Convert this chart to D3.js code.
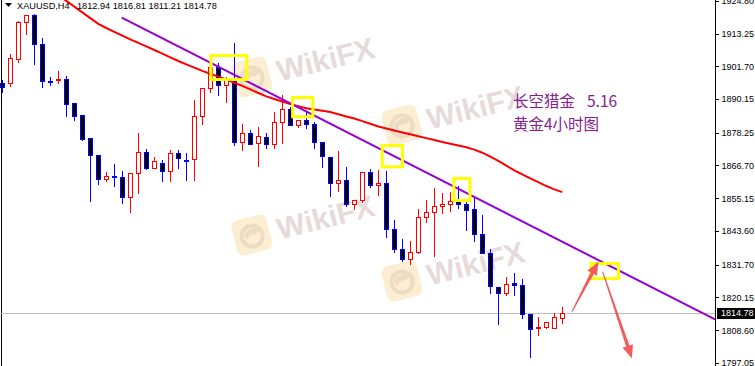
<!DOCTYPE html>
<html>
<head>
<meta charset="utf-8">
<script src="https://cdn.jsdelivr.net/npm/d3@7"></script>
<style>
  html, body { margin: 0; padding: 0; background: #ffffff; overflow: hidden; }
  svg { display: block; }
</style>
</head>
<body>
<svg id="chart" width="755" height="366"></svg>
<script>
// XAUUSD H4 candles, oldest to newest
const opens = [1895.79,1895.79,1904.25,1917.30,1919.77,1909.54,1896.67,1897.02,1897.20,1888.74,
  1884.50,1876.39,1870.40,1861.83,1863.10,1862.64,1855.69,1863.94,1871.56,1865.92,
  1867.68,1864.76,1871.00,1868.81,1868.88,1884.15,1893.92,1901.54,1895.08,1897.45,
  1874.88,1878.05,1874.52,1876.85,1874.17,1881.93,1886.62,1880.98,1882.74,1881.22,
  1874.88,1869.59,1860.42,1861.58,1853.01,1854.53,1864.30,1859.82,1860.42,1844.20,
  1837.14,1833.61,1836.08,1848.64,1850.19,1852.41,1853.12,1854.18,1853.12,1851.25,
  1842.43,1835.73,1823.74,1821.62,1825.15,1824.55,1814.22,1809.39,1809.64,1809.50,
  1812.94];
const highs = [1896.85,1906.02,1917.65,1919.77,1920.30,1911.66,1897.91,1900.02,1898.26,1888.74,
  1884.50,1876.39,1870.40,1864.40,1867.22,1864.76,1864.05,1878.16,1872.51,1869.69,
  1868.63,1872.16,1872.16,1871.00,1889.79,1894.13,1902.74,1902.74,1898.01,1909.79,
  1881.22,1879.21,1880.17,1878.16,1885.46,1891.56,1887.43,1882.74,1885.67,1882.14,
  1874.88,1869.59,1871.91,1866.06,1854.53,1864.30,1865.36,1865.11,1864.76,1847.47,
  1840.77,1840.07,1851.25,1854.53,1858.65,1856.89,1857.46,1859.47,1854.28,1855.48,
  1849.24,1837.14,1823.74,1827.27,1828.68,1826.56,1814.22,1813.16,1811.61,1814.78,
  1816.81];
const lows = [1892.62,1894.73,1903.20,1913.07,1902.49,1894.38,1895.08,1895.79,1884.15,1882.74,
  1875.69,1854.28,1860.17,1861.34,1859.57,1853.47,1850.40,1857.00,1865.46,1865.81,
  1861.23,1861.23,1865.92,1861.58,1861.58,1881.22,1892.72,1891.56,1889.20,1873.92,
  1872.16,1874.17,1866.52,1872.87,1872.87,1874.52,1880.98,1880.27,1879.81,1872.97,
  1866.27,1856.05,1857.81,1852.52,1851.35,1853.93,1859.22,1856.29,1841.37,1836.30,
  1833.12,1831.96,1835.73,1846.66,1834.88,1849.84,1850.65,1851.81,1843.95,1840.07,
  1835.73,1821.62,1810.69,1821.03,1821.03,1812.81,1799.05,1806.92,1809.28,1809.28,
  1811.21];
const closes = [1894.38,1904.61,1917.30,1919.77,1909.54,1896.49,1896.32,1897.38,1888.38,1884.15,
  1876.04,1870.40,1861.93,1863.10,1862.53,1855.69,1864.05,1871.56,1865.92,1868.28,
  1864.76,1871.00,1869.23,1868.46,1884.15,1894.13,1901.54,1895.08,1897.45,1874.88,
  1878.05,1874.17,1876.99,1874.17,1881.93,1886.62,1880.98,1882.74,1881.22,1874.88,
  1870.05,1860.42,1861.58,1853.01,1854.53,1864.30,1859.82,1860.63,1844.20,1837.14,
  1833.61,1836.08,1848.64,1850.19,1852.41,1853.12,1854.18,1853.12,1851.00,1842.54,
  1835.73,1824.31,1821.62,1824.80,1824.55,1814.33,1808.93,1809.74,1811.61,1813.16,
  1814.78];

// moving average (red), per candle; earlier values sit above the visible range
const maValues = [null,null,null,null,null,null,null,1926.75,1924.74,1922.73,
  1920.69,1918.68,1916.67,1915.19,1913.81,1912.47,1911.20,1909.93,1908.70,1907.43,
  1906.12,1904.82,1903.55,1902.38,1901.22,1900.09,1899.07,1898.05,1897.02,1895.89,
  1894.77,1893.53,1892.26,1891.06,1890.15,1889.27,1888.35,1887.61,1886.90,1886.44,
  1885.99,1885.53,1884.79,1884.01,1883.27,1882.35,1881.40,1880.48,1879.74,1879.04,
  1878.37,1877.70,1876.99,1876.36,1875.69,1875.02,1874.38,1873.75,1873.15,1872.30,
  1871.21,1869.80,1868.32,1866.66,1865.00,1863.56,1862.15,1860.81,1859.46,1858.27,
  1857.31];

// price scale labels
const priceTicks = [1924.80,1913.25,1901.70,1890.15,1878.25,1866.70,1855.15,1843.60,1831.70,1820.15,1808.60,1797.05];

const symbolName = "XAUUSD,H4";
const lastQuote = [1812.94, 1816.81, 1811.21, 1814.78];   // O H L C of the live bar
const bidPrice = 1814.78;

// descending trendline: two anchors (bar index, price), extended as a ray
const trendAnchors = [[14.93, 1918.82], [87.2, 1815.13]];

// highlighted zones: bar index range and price range
const zoneI0 = [25.9, 36.1, 47.3, 56.25, 73.4];
const zoneI1 = [30.75, 39.0, 50.2, 58.65, 77.2];
const zoneP0 = [1906.02, 1891.20, 1874.28, 1862.64, 1832.66];
const zoneP1 = [1896.49, 1883.34, 1865.71, 1853.82, 1826.31];

// forecast arrows: tail and tip as (bar index, price)
const arrowFrom = [[71.2, 1815.13], [75.05, 1829.24]];
const arrowTo   = [[74.5, 1832.77], [78.7, 1798.70]];

const noteTitle = "长空猎金";
const noteDate = "5.16";
const noteSub = "黄金4小时图";
const watermarkText = "WikiFX";

// ---------------------------------------------------------------
const W = 755, H = 366, plotRight = 715;
const svg = d3.select("#chart");

const x = d3.scaleLinear().domain([0, 70]).range([2.3, 562.3]);
const y = d3.scaleLinear().domain([1797.05, 1913.25]).range([363, 33.5]);

svg.append("defs").append("clipPath").attr("id", "plotClip")
  .append("rect").attr("x", 0).attr("y", 0).attr("width", plotRight).attr("height", H);

// faint brand stamps behind the chart
const wmPos = [[230, 64], [230, 222], [380, 112], [380, 268]];
const wm = svg.append("g").attr("clip-path", "url(#plotClip)");
wmPos.forEach(p => {
  const g = wm.append("g").attr("transform", `translate(${p[0]},${p[1]}) rotate(-14)`);
  g.append("rect").attr("x", 0).attr("y", 0).attr("width", 36).attr("height", 36).attr("rx", 7)
    .attr("fill", "#fbeed2");
  g.append("circle").attr("cx", 18).attr("cy", 19).attr("r", 10.5)
    .attr("fill", "none").attr("stroke", "#ecdcc4").attr("stroke-width", 4);
  g.append("path").attr("d", "M10,16 Q18,8 28,14 L22,18 Q16,16 12,22 Z").attr("fill", "#ecdcc4");
  g.append("text").attr("x", 44).attr("y", 29)
    .attr("font-family", "'Liberation Sans', Arial, sans-serif")
    .attr("font-weight", "bold").attr("font-size", 30)
    .attr("fill", "#e7dada").text(watermarkText);
});

// left frame edge
svg.append("line").attr("x1", 1.5).attr("x2", 1.5).attr("y1", 0).attr("y2", H)
  .attr("stroke", "#000").attr("stroke-width", 1).attr("shape-rendering", "crispEdges");

const plot = svg.append("g").attr("clip-path", "url(#plotClip)");

// bid line
const bidY = Math.round(y(bidPrice)) + 0.5;
plot.append("line").attr("x1", 0).attr("x2", plotRight).attr("y1", bidY).attr("y2", bidY)
  .attr("stroke", "#c0c0c0").attr("stroke-width", 1).attr("shape-rendering", "crispEdges");

// candles
const cg = plot.append("g").attr("shape-rendering", "crispEdges");
opens.forEach((o, i) => {
  const h = highs[i], l = lows[i], c = closes[i];
  const bull = c > o;
  const col = bull ? "#ff0000" : "#0000ff";
  const px = Math.round(x(i));
  cg.append("line")
    .attr("x1", px + 0.5).attr("x2", px + 0.5)
    .attr("y1", Math.round(y(h))).attr("y2", Math.round(y(l)) + 1)
    .attr("stroke", col).attr("stroke-width", 1);
  const yt = Math.round(y(Math.max(o, c)));
  const yb = Math.round(y(Math.min(o, c)));
  if (yb - yt < 2) {
    cg.append("rect").attr("x", px - 2).attr("y", yt).attr("width", 5)
      .attr("height", Math.max(1, yb - yt + 1)).attr("fill", col);
  } else {
    cg.append("rect").attr("x", px - 1.5).attr("y", yt + 0.5).attr("width", 4)
      .attr("height", yb - yt)
      .attr("fill", bull ? "#ffffff" : "#000000")
      .attr("stroke", col).attr("stroke-width", 1);
  }
});

// moving average
const maLine = d3.line().defined(d => d != null).x((d, i) => x(i)).y(d => y(d));
plot.append("path").datum(maValues).attr("d", maLine)
  .attr("fill", "none").attr("stroke", "#ff0000").attr("stroke-width", 2);

// trendline ray
const [ta, tb] = trendAnchors;
const slope = (tb[1] - ta[1]) / (tb[0] - ta[0]);
const iEnd = x.invert(plotRight);
plot.append("line")
  .attr("x1", x(ta[0])).attr("y1", y(ta[1]))
  .attr("x2", x(iEnd)).attr("y2", y(ta[1] + slope * (iEnd - ta[0])))
  .attr("stroke", "#9400d3").attr("stroke-width", 2);

// highlight zones
zoneI0.forEach((i0, k) => {
  const x0 = x(i0), x1 = x(zoneI1[k]);
  const y0 = y(zoneP0[k]), y1 = y(zoneP1[k]);
  plot.append("rect").attr("x", x0 + 1.5).attr("y", y0 + 1.5)
    .attr("width", x1 - x0 - 3).attr("height", y1 - y0 - 3)
    .attr("fill", "none").attr("stroke", "#ffff00").attr("stroke-width", 3);
});

// arrows
function arrowShape(p0, p1) {
  const dx = p1[0] - p0[0], dy = p1[1] - p0[1];
  const len = Math.hypot(dx, dy);
  const ux = dx / len, uy = dy / len, nx = -uy, ny = ux;
  const headLen = 13, headW = 11, neckW = 3.6, tailW = 1;
  const nk = [p1[0] - ux * headLen, p1[1] - uy * headLen];
  const pt = (b, w) => [b[0] + nx * w / 2, b[1] + ny * w / 2];
  return [pt(p0, tailW), pt(nk, neckW), pt(nk, headW), p1, pt(nk, -headW), pt(nk, -neckW), pt(p0, -tailW)];
}
arrowFrom.forEach((f, k) => {
  const p0 = [x(f[0]), y(f[1])], p1 = [x(arrowTo[k][0]), y(arrowTo[k][1])];
  plot.append("path").attr("d", "M" + arrowShape(p0, p1).join("L") + "Z")
    .attr("fill", "#ef4f4f").attr("opacity", 0.92);
});

// chart note
const cjk = "'Noto Sans CJK SC', 'Noto Sans', sans-serif";
const note1 = plot.append("text").attr("y", 107).attr("font-family", cjk)
  .attr("font-size", 15.5).attr("fill", "#86208f");
note1.append("tspan").attr("x", 513).text(noteTitle);
note1.append("tspan").attr("x", 587).text(noteDate);
plot.append("text").attr("x", 513).attr("y", 130).attr("font-family", cjk)
  .attr("font-size", 15.5).attr("fill", "#86208f").text(noteSub);

// price axis
const axisFont = "'Liberation Sans', Arial, sans-serif";
svg.append("line").attr("x1", plotRight + 0.5).attr("x2", plotRight + 0.5).attr("y1", 0).attr("y2", H)
  .attr("stroke", "#000").attr("stroke-width", 1).attr("shape-rendering", "crispEdges");
const axis = d3.axisRight(y).tickValues(priceTicks).tickSize(3).tickSizeOuter(0).tickPadding(3)
  .tickFormat(d3.format(".2f"));
const ag = svg.append("g").attr("transform", `translate(${plotRight + 0.5},0)`).call(axis);
ag.select(".domain").remove();
ag.selectAll(".tick line").attr("stroke", "#000").attr("shape-rendering", "crispEdges");
ag.selectAll(".tick text").attr("font-family", axisFont).attr("font-size", 9).attr("fill", "#000");

// bid price tag
const tagY = y(bidPrice);
svg.append("rect").attr("x", plotRight + 2).attr("y", Math.round(tagY) - 5).attr("width", W - plotRight - 2)
  .attr("height", 11).attr("fill", "#000").attr("shape-rendering", "crispEdges");
svg.append("text").attr("x", plotRight + 6).attr("y", tagY).attr("dy", "0.35em")
  .attr("font-family", axisFont).attr("font-size", 9).attr("fill", "#fff")
  .text(d3.format(".2f")(bidPrice));

// header
svg.append("path").attr("d", "M5,3 L12,3 L8.5,7 Z").attr("fill", "#000");
svg.append("text").attr("x", 17).attr("y", 8.6).attr("font-family", axisFont)
  .attr("font-size", 9.2).attr("fill", "#000").text(symbolName);
svg.append("text").attr("x", 77).attr("y", 8.6).attr("font-family", axisFont)
  .attr("font-size", 9.2).attr("fill", "#000")
  .text(lastQuote.map(d3.format(".2f")).join(" "));
</script>
</body>
</html>
